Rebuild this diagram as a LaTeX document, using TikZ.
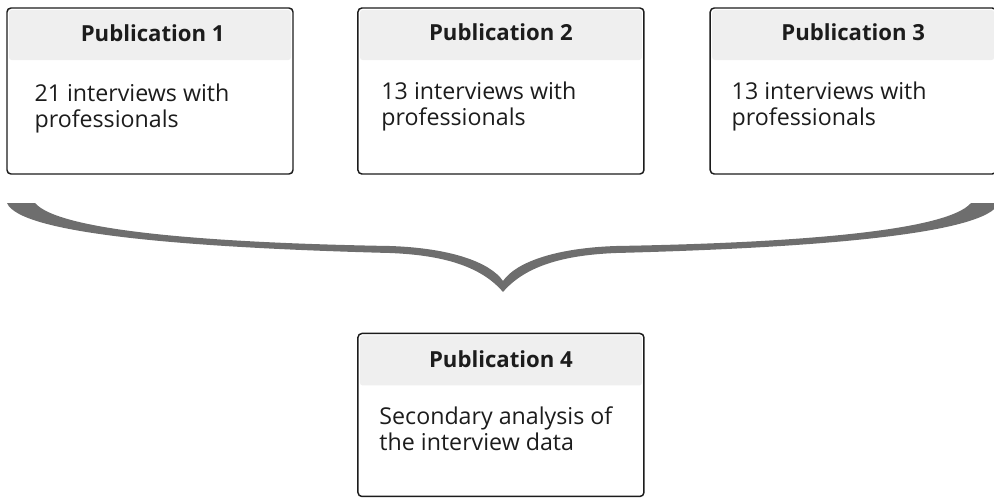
\documentclass[tikz,border=0pt]{standalone}
\usepackage{fontspec}
\setmainfont{Open Sans}
\usetikzlibrary{positioning}
\definecolor{headgray}{RGB}{239,239,239}
\definecolor{bracegray}{RGB}{110,110,110}
\definecolor{ink}{RGB}{28,28,28}

\begin{document}
\begin{tikzpicture}[x=0.75pt, y=-0.75pt,
          pub/.style={draw=ink, line width=1.1pt, rounded corners=3pt,
                      minimum width=214.5pt, minimum height=124.5pt, inner sep=0pt,
                      path picture={\fill[headgray, rounded corners=2pt]
                        ([shift={(1.5pt,-1.5pt)}]path picture bounding box.north west)
                        rectangle ([shift={(-1.5pt,-39pt)}]path picture bounding box.north east);}},
          title/.style={font=\bfseries\fontsize{16.6}{19}\selectfont, text=ink},
          body/.style={font=\fontsize{17.4}{19.5}\selectfont, text=ink,
                       align=left, anchor=north west, inner sep=0pt}
        ]
          \useasboundingbox (0,0) rectangle (994,497);
          \node[pub] (p1) at (150,91) {};
          \node[pub, right=47.6pt of p1] (p2) {};
          \node[pub, right=48.6pt of p2] (p3) {};
          \node[pub, minimum height=122.25pt, below=118.5pt of p2] (p4) {};
          \node[title] (t1) at ([shift={(2pt,-19.5pt)}]p1.north) {Publication 1};
          \node[title] (t2) at ([yshift=-18.5pt]p2.north) {Publication 2};
          \node[title] (t3) at ([yshift=-18.5pt]p3.north) {Publication 3};
          \node[title] (t4) at ([yshift=-19.5pt]p4.north) {Publication 4};
          \node[body] (b1) at ([shift={(21pt,-57pt)}]p1.north west) {21 interviews with\\professionals};
          \node[body] (b2) at ([shift={(18pt,-55.5pt)}]p2.north west) {13 interviews with\\professionals};
          \node[body] (b3) at ([shift={(16.5pt,-55.5pt)}]p3.north west) {13 interviews with\\professionals};
          \node[body] (b4) at ([shift={(16.5pt,-55.5pt)}]p4.north west) {Secondary analysis of\\the interview data};
          % brace gathering the three studies
          \coordinate (tip) at (503,292);
          \fill[bracegray] (7,203) -- (35,203)
            .. controls (60,232) and (220,243) .. (390,246)
            .. controls (450,248) and (490,262) .. (503,281)
            .. controls (516,262) and (556,248) .. (616,246)
            .. controls (786,243) and (946,232) .. (971,203)
            -- (999,203)
            .. controls (986,235) and (806,248) .. (616,253)
            .. controls (566,255) and (526,265) .. (tip)
            .. controls (480,265) and (440,255) .. (390,253)
            .. controls (200,248) and (20,235) .. (7,203) -- cycle;
        \end{tikzpicture}
\end{document}
